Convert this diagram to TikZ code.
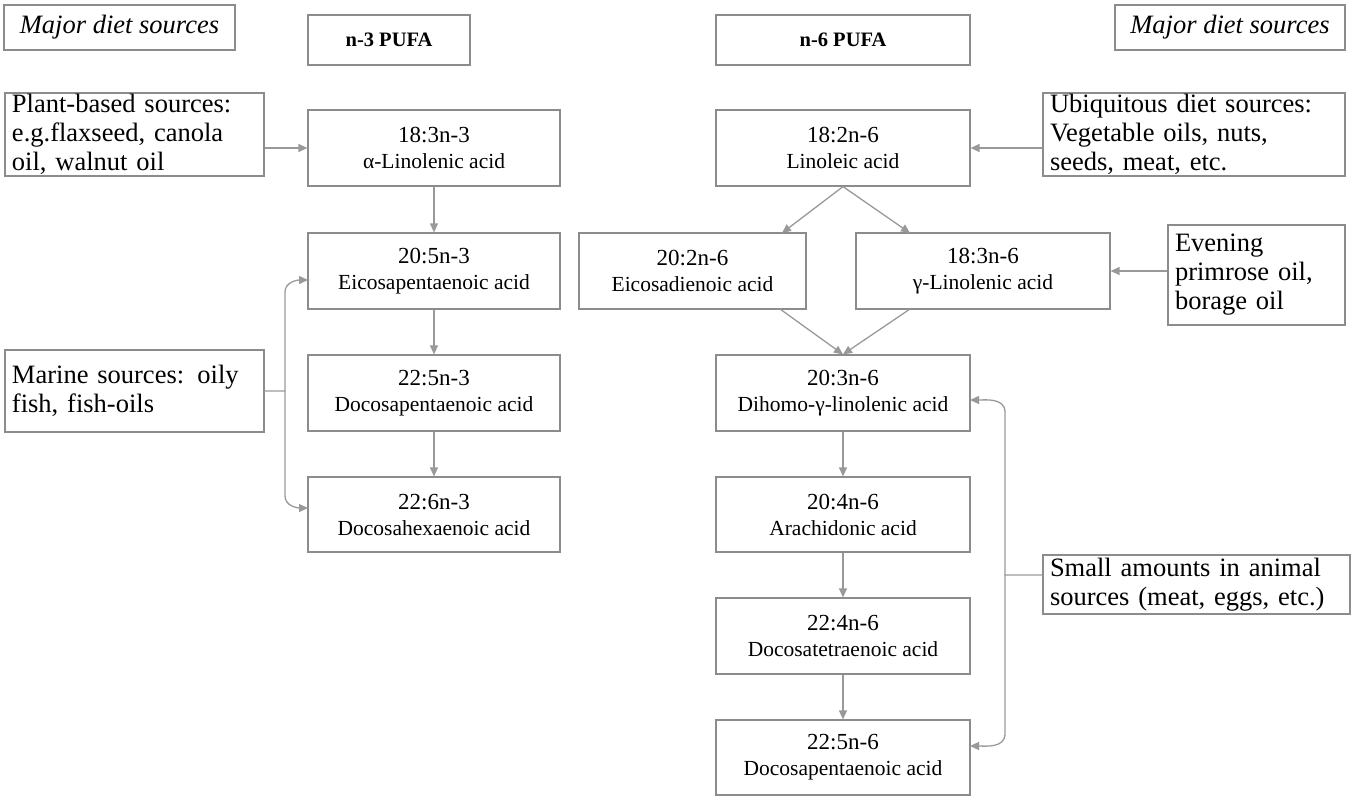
\documentclass[tikz,border=0pt]{standalone}
\usepackage{fontspec}
\setmainfont{Liberation Serif}
\usetikzlibrary{arrows.meta}
\newcommand{\smf}{\fontsize{21.5}{24}\selectfont}
\begin{document}
\begin{tikzpicture}[x=1pt,y=-1pt,
  box/.style={draw=black!45,line width=1.2pt,inner sep=0pt,align=center,font=\fontsize{23}{27}\selectfont},
  srcf/.style={font=\fontsize{26.5}{29}\selectfont},
  arr/.style={draw=black!40,line width=1.3pt,-{Triangle[length=9pt,width=8pt]}}]
\useasboundingbox (0,0) rectangle (1352,800);
\newcommand{\bx}[6]{\node[box,minimum width=#4-#2,minimum height=#5-#3] (#1) at ({(#2+#4)/2},{(#3+#5)/2}) {#6};}
\bx{mdl}{4}{5}{235}{50}{\fontsize{26.5}{29}\selectfont\itshape Major diet sources}
\bx{n3}{308}{15}{470}{65}{\fontsize{20.5}{24}\selectfont\bfseries n-3 PUFA}
\bx{n6}{716}{15}{970}{65}{\fontsize{20.5}{24}\selectfont\bfseries n-6 PUFA}
\bx{mdr}{1115}{5}{1345}{50}{\fontsize{26.5}{29}\selectfont\itshape Major diet sources}
\bx{a}{308}{110}{560}{186}{18:3n-3\\[-1pt]{\smf α-Linolenic acid}}
\bx{b}{308}{233}{560}{309}{20:5n-3\\[-1pt]{\smf Eicosapentaenoic acid}}
\bx{c}{308}{355}{560}{431}{22:5n-3\\[-1pt]{\smf Docosapentaenoic acid}}
\bx{d}{308}{477}{560}{552}{22:6n-3\\[-1pt]{\smf Docosahexaenoic acid}}
\bx{e}{716}{110}{970}{186}{18:2n-6\\[-1pt]{\smf Linoleic acid}}
\bx{f}{579}{233}{806}{309}{20:2n-6\\[-1pt]{\smf Eicosadienoic acid}}
\bx{g}{856}{233}{1110}{309}{18:3n-6\\[-1pt]{\smf γ-Linolenic acid}}
\bx{h}{716}{355}{970}{431}{20:3n-6\\[-1pt]{\smf Dihomo-γ-linolenic acid}}
\bx{i}{716}{477}{970}{552}{20:4n-6\\[-1pt]{\smf Arachidonic acid}}
\bx{j}{716}{598}{970}{674}{22:4n-6\\[-1pt]{\smf Docosatetraenoic acid}}
\bx{k}{716}{720}{970}{795}{22:5n-6\\[-1pt]{\smf Docosapentaenoic acid}}
\node[box,srcf,align=left,minimum width=259,minimum height=83,text width=245] (p) at (134.5,134.5) {Plant-based sources:\\ e.g.flaxseed, canola\\ oil, walnut oil};
\node[box,srcf,align=left,minimum width=259,minimum height=82,text width=245] (m) at (134.5,391) {Marine sources: oily\\ fish, fish-oils};
\node[box,srcf,align=left,minimum width=302,minimum height=83,text width=288] (u) at (1194,134.5) {Ubiquitous diet sources:\\ Vegetable oils, nuts,\\ seeds, meat, etc.};
\node[box,srcf,align=left,minimum width=177,minimum height=100,text width=163] (v) at (1256.5,275) {Evening\\ primrose oil,\\ borage oil};
\node[box,srcf,align=left,minimum width=307,minimum height=59,text width=293] (s) at (1196.5,584.5) {Small amounts in animal\\ sources (meat, eggs, etc.)};
\draw[arr] (a) -- (b); \draw[arr] (b) -- (c); \draw[arr] (c) -- (d);
\draw[arr] (p.east|-a) -- (a.west);
\draw[arr] (u.west|-e) -- (e.east);
\draw[arr] (v.west|-g) -- (g.east);
\draw[arr] (e.south) -- (782,233);
\draw[arr] (e.south) -- (910,233);
\draw[arr] (780,309) -- (h.north); \draw[arr] (910,309) -- (h.north);
\draw[arr] (h) -- (i); \draw[arr] (i) -- (j); \draw[arr] (j) -- (k);
\coordinate (mb) at (285,391);
\draw[arr] (m.east) -- (mb) -- (285,292) to[out=90,in=180] (308,280);
\draw[arr] (mb) -- (285,496) to[out=270,in=180] (308,508);
\coordinate (sb) at (1005,575);
\draw[arr] (s.west|-sb) -- (sb) -- (1005,412) to[out=90,in=0] (970,400);
\draw[arr] (sb) -- (1005,734) to[out=270,in=0] (970,746);
\end{tikzpicture}
\end{document}
